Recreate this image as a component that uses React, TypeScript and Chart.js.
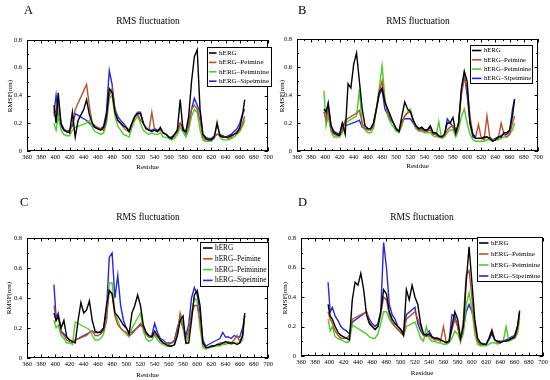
import React, { useEffect, useRef } from 'react';
import { Chart, registerables } from 'chart.js';
Chart.register(...registerables);

// ---------- data ----------
const residues = [
  398, 401, 404, 408, 412, 416, 420, 424, 428, 432,
  436, 440, 444, 448, 452, 456, 460, 464, 468, 472,
  476, 480, 484, 488, 492, 496, 500, 504, 508, 512,
  516, 520, 524, 528, 532, 536, 540, 544, 548, 552,
  556, 560, 564, 568, 572, 576, 580, 584, 588, 592,
  596, 600, 604, 608, 612, 616, 620, 624, 628, 632,
  636, 640, 644, 648, 652, 656, 660, 664, 667,
];

const seriesNames = ['hERG', 'hERG–Peimine', 'hERG–Peiminine', 'hERG–Sipeimine'];
const xTickValues = [360, 380, 400, 420, 440, 460, 480, 500, 520, 540, 560, 580, 600, 620, 640, 660, 680, 700];
const yTickValues = [0, 0.2, 0.4, 0.6, 0.8];
const chartTitle = 'RMS fluctuation';
const xAxisTitle = 'Residue';
const yAxisTitle = 'RMSF(nm)';

const aHerg = [
  0.33, 0.2, 0.42, 0.2, 0.15, 0.14, 0.13, 0.28, 0.1, 0.22,
  0.26, 0.3, 0.37, 0.26, 0.2, 0.17, 0.16, 0.15, 0.17, 0.25,
  0.45, 0.42, 0.28, 0.22, 0.2, 0.18, 0.17, 0.14, 0.2, 0.25,
  0.27, 0.27, 0.2, 0.16, 0.15, 0.14, 0.15, 0.14, 0.17, 0.13,
  0.12, 0.1, 0.09, 0.12, 0.15, 0.37, 0.15, 0.14, 0.25, 0.5,
  0.68, 0.73, 0.3, 0.12, 0.09, 0.08, 0.08, 0.1, 0.2, 0.11,
  0.1, 0.1, 0.1, 0.11, 0.12, 0.13, 0.17, 0.26, 0.37,
];
const aPeimine = [
  0.25, 0.3, 0.35, 0.2, 0.16, 0.14, 0.14, 0.2, 0.3, null,
  null, null, 0.48, 0.32, 0.2, 0.18, 0.17, 0.16, 0.15, 0.22,
  0.4, 0.45, 0.3, 0.22, 0.2, 0.17, 0.15, 0.14, 0.2, 0.24,
  0.27, 0.22, 0.2, 0.17, 0.15, 0.28, 0.15, 0.14, 0.15, 0.13,
  0.12, 0.1, 0.09, 0.11, 0.14, 0.2, 0.15, 0.13, 0.18, 0.3,
  0.33, 0.3, 0.22, 0.1, 0.08, 0.08, 0.08, 0.1, 0.12, 0.11,
  0.1, 0.1, 0.09, 0.1, 0.12, 0.14, 0.15, 0.2, 0.25,
];
const aPeiminine = [
  0.2, 0.15, 0.25, 0.15, 0.12, 0.11, 0.11, 0.15, 0.17, null,
  null, null, 0.2, 0.22, 0.17, 0.14, 0.13, 0.12, 0.13, 0.2,
  0.38, 0.4, 0.25, 0.18, 0.15, 0.12, 0.11, 0.1, 0.17, 0.22,
  0.25, 0.2, 0.15, 0.13, 0.12, 0.13, 0.12, 0.12, 0.13, 0.1,
  0.1, 0.09, 0.08, 0.09, 0.12, 0.17, 0.14, 0.1, 0.15, 0.25,
  0.3, 0.28, 0.15, 0.08, 0.07, 0.07, 0.07, 0.09, 0.21, 0.1,
  0.08, 0.08, 0.08, 0.09, 0.1, 0.12, 0.14, 0.18, 0.22,
];
const aSipeimine = [
  0.27, 0.4, 0.25, 0.18, 0.15, 0.14, 0.15, 0.18, 0.27, null,
  null, null, 0.22, 0.2, 0.18, 0.17, 0.16, 0.16, 0.18, 0.28,
  0.58, 0.48, 0.3, 0.25, 0.22, 0.2, 0.17, 0.15, 0.2, 0.25,
  0.28, 0.28, 0.2, 0.16, 0.15, 0.15, 0.16, 0.15, 0.16, 0.13,
  0.12, 0.1, 0.1, 0.12, 0.15, 0.2, 0.17, 0.12, 0.2, 0.3,
  0.38, 0.33, 0.28, 0.12, 0.1, 0.09, 0.09, 0.11, 0.12, 0.12,
  0.11, 0.1, 0.11, 0.12, 0.14, 0.16, 0.2, 0.27, 0.3,
];

const bHerg = [
  0.3, 0.28, 0.34, 0.18, 0.13, 0.12, 0.11, 0.2, 0.12, 0.48,
  0.45, 0.62, 0.7, 0.5, 0.3, 0.18, 0.16, 0.16, 0.2, 0.3,
  0.42, 0.45, 0.35, 0.3, 0.25, 0.2, 0.16, 0.14, 0.25, 0.35,
  0.3, 0.28, 0.22, 0.18, 0.16, 0.17, 0.15, 0.15, 0.18, 0.13,
  0.13, 0.11, 0.1, 0.12, 0.2, 0.2, 0.24, 0.13, 0.2, 0.45,
  0.57, 0.5, 0.2, 0.12, 0.09, 0.09, 0.09, 0.1, 0.1, 0.09,
  0.07, 0.08, 0.1, 0.1, 0.13, 0.13, 0.15, 0.25, 0.37,
];
const bPeimine = [
  0.28, 0.22, 0.3, 0.15, 0.12, 0.11, 0.11, 0.15, 0.22, null,
  null, null, 0.27, 0.29, 0.2, 0.16, 0.15, 0.15, 0.18, 0.3,
  0.42, 0.5, 0.35, 0.28, 0.23, 0.2, 0.16, 0.14, 0.2, 0.25,
  0.27, 0.28, 0.22, 0.17, 0.15, 0.15, 0.14, 0.14, 0.15, 0.12,
  0.12, 0.1, 0.1, 0.11, 0.15, 0.17, 0.18, 0.12, 0.2, 0.4,
  0.52, 0.45, 0.25, 0.12, 0.1, 0.19, 0.09, 0.08, 0.25, 0.1,
  0.08, 0.08, 0.09, 0.2, 0.12, 0.1, 0.12, 0.2, 0.25,
];
const bPeiminine = [
  0.43, 0.18, 0.25, 0.14, 0.1, 0.1, 0.1, 0.13, 0.2, null,
  null, null, 0.25, 0.44, 0.18, 0.15, 0.13, 0.13, 0.16, 0.3,
  0.45, 0.61, 0.38, 0.25, 0.2, 0.17, 0.14, 0.13, 0.18, 0.25,
  0.28, 0.3, 0.22, 0.16, 0.14, 0.14, 0.13, 0.13, 0.13, 0.11,
  0.1, 0.21, 0.09, 0.1, 0.13, 0.15, 0.15, 0.1, 0.15, 0.25,
  0.3, 0.2, 0.12, 0.08, 0.07, 0.07, 0.07, 0.07, 0.08, 0.08,
  0.07, 0.08, 0.08, 0.09, 0.1, 0.1, 0.12, 0.15, 0.2,
];
const bSipeimine = [
  0.28, 0.25, 0.34, 0.18, 0.14, 0.13, 0.12, 0.2, 0.18, null,
  null, null, 0.21, 0.22, 0.17, 0.16, 0.16, 0.16, 0.2, 0.3,
  0.4, 0.44, 0.3, 0.26, 0.22, 0.2, 0.15, 0.14, 0.22, 0.23,
  0.23, 0.23, 0.2, 0.16, 0.15, 0.16, 0.15, 0.15, 0.17, 0.13,
  0.12, 0.1, 0.1, 0.11, 0.23, 0.2, 0.17, 0.12, 0.2, 0.43,
  0.55, 0.4, 0.2, 0.1, 0.09, 0.09, 0.09, 0.09, 0.1, 0.09,
  0.08, 0.09, 0.1, 0.11, 0.12, 0.12, 0.14, 0.3, 0.37,
];

const cHerg = [
  0.3, 0.25, 0.28, 0.2, 0.25, 0.14, 0.12, 0.11, 0.1, 0.25,
  0.37, 0.3, 0.32, 0.38, 0.25, 0.18, 0.17, 0.17, 0.2, 0.35,
  0.45, 0.43, 0.3, 0.28, 0.25, 0.22, 0.2, 0.16, 0.3, 0.35,
  0.42, 0.35, 0.22, 0.17, 0.15, 0.14, 0.18, 0.15, 0.12, 0.1,
  0.09, 0.08, 0.08, 0.09, 0.15, 0.25, 0.28, 0.1, 0.1, 0.25,
  0.42, 0.45, 0.35, 0.1, 0.07, 0.07, 0.08, 0.08, 0.09, 0.09,
  0.1, 0.11, 0.1, 0.1, 0.1, 0.09, 0.1, 0.15, 0.3,
];
const cPeimine = [
  0.35, 0.25, 0.28, 0.17, 0.15, 0.12, 0.11, 0.1, 0.12, null,
  null, null, 0.15, 0.17, 0.18, 0.15, 0.15, 0.16, 0.18, 0.25,
  0.45, 0.42, 0.28, 0.22, 0.2, 0.18, 0.17, 0.15, 0.16, null,
  null, 0.23, 0.2, 0.16, 0.14, 0.14, 0.16, 0.14, 0.12, 0.1,
  0.1, 0.09, 0.1, 0.11, 0.18, 0.3, 0.22, 0.13, 0.18, 0.3,
  0.35, 0.35, 0.25, 0.1, 0.07, 0.07, 0.08, 0.08, 0.09, 0.1,
  0.1, 0.1, 0.11, 0.1, 0.12, 0.15, 0.11, 0.15, 0.28,
];
const cPeiminine = [
  0.25, 0.2, 0.22, 0.15, 0.13, 0.1, 0.1, 0.09, 0.24, null,
  null, null, 0.2, 0.19, 0.15, 0.12, 0.12, 0.13, 0.16, 0.25,
  0.5, 0.5, 0.3, 0.25, 0.2, 0.18, 0.16, 0.14, 0.2, null,
  null, 0.3, 0.18, 0.13, 0.11, 0.12, 0.15, 0.12, 0.1, 0.09,
  0.08, 0.08, 0.08, 0.09, 0.15, 0.28, 0.2, 0.1, 0.15, 0.3,
  0.4, 0.38, 0.2, 0.07, 0.06, 0.07, 0.07, 0.08, 0.08, 0.08,
  0.09, 0.09, 0.1, 0.09, 0.1, 0.1, 0.1, 0.12, 0.3,
];
const cSipeimine = [
  0.49, 0.27, 0.3, 0.18, 0.16, 0.14, 0.12, 0.11, 0.12, null,
  null, null, 0.16, 0.17, 0.18, 0.17, 0.17, 0.18, 0.2, 0.3,
  0.67, 0.7, 0.4, 0.55, 0.35, 0.25, 0.2, 0.17, 0.17, null,
  null, 0.22, 0.2, 0.16, 0.14, 0.15, 0.23, 0.17, 0.13, 0.12,
  0.1, 0.1, 0.1, 0.12, 0.2, 0.26, 0.2, 0.15, 0.22, 0.4,
  0.47, 0.42, 0.3, 0.12, 0.08, 0.09, 0.1, 0.11, 0.12, 0.13,
  0.17, 0.14, 0.14, 0.13, 0.15, 0.14, 0.14, 0.2, 0.28,
];

const dHerg = [
  0.35, 0.27, 0.25, 0.2, 0.16, 0.14, 0.13, 0.12, 0.11, 0.38,
  0.5, 0.48, 0.56, 0.45, 0.28, 0.22, 0.2, 0.18, 0.2, 0.3,
  0.45, 0.42, 0.3, 0.25, 0.22, 0.2, 0.18, 0.14, 0.45, 0.38,
  0.48, 0.4, 0.35, 0.22, 0.15, 0.14, 0.15, 0.13, 0.12, 0.12,
  0.11, 0.1, 0.09, 0.1, 0.2, 0.3, 0.25, 0.12, 0.2, 0.5,
  0.74, 0.5, 0.25, 0.12, 0.09, 0.08, 0.08, 0.12, 0.17, 0.11,
  0.1, 0.09, 0.1, 0.1, 0.11, 0.12, 0.13, 0.2, 0.3,
];
const dPeimine = [
  0.3, 0.25, 0.22, 0.17, 0.14, 0.12, 0.12, 0.12, 0.14, 0.25,
  null, null, null, null, 0.3, 0.23, 0.2, 0.18, 0.2, 0.28,
  0.4, 0.38, 0.28, 0.23, 0.2, 0.18, 0.16, 0.14, 0.25, null,
  null, 0.3, 0.25, 0.2, 0.14, 0.13, 0.14, 0.12, 0.11, 0.11,
  0.1, 0.2, 0.09, 0.1, 0.18, 0.25, 0.2, 0.1, 0.25, 0.55,
  0.58, 0.4, 0.2, 0.1, 0.08, 0.08, 0.08, 0.12, 0.18, 0.11,
  0.09, 0.09, 0.1, 0.1, 0.11, 0.12, 0.12, 0.18, 0.28,
];
const dPeiminine = [
  0.25, 0.17, 0.2, 0.13, 0.12, 0.11, 0.1, 0.09, 0.1, 0.21,
  null, null, null, null, 0.15, 0.13, 0.12, 0.12, 0.15, 0.22,
  0.3, 0.3, 0.25, 0.22, 0.2, 0.18, 0.16, 0.14, 0.2, null,
  null, 0.23, 0.18, 0.12, 0.1, 0.2, 0.12, 0.1, 0.1, 0.09,
  0.09, 0.08, 0.08, 0.09, 0.12, 0.17, 0.15, 0.1, 0.15, 0.35,
  0.43, 0.32, 0.15, 0.08, 0.07, 0.07, 0.07, 0.08, 0.09, 0.09,
  0.08, 0.09, 0.1, 0.2, 0.1, 0.11, 0.12, 0.15, 0.25,
];
const dSipeimine = [
  0.5, 0.3, 0.33, 0.27, 0.24, 0.2, 0.18, 0.17, 0.15, 0.23,
  null, null, null, null, 0.3, 0.25, 0.22, 0.2, 0.22, 0.3,
  0.77, 0.6, 0.35, 0.28, 0.25, 0.2, 0.18, 0.16, 0.28, null,
  null, 0.33, 0.22, 0.17, 0.14, 0.15, 0.17, 0.13, 0.12, 0.12,
  0.11, 0.1, 0.09, 0.1, 0.28, 0.27, 0.2, 0.12, 0.18, 0.3,
  0.35, 0.3, 0.22, 0.1, 0.08, 0.08, 0.08, 0.11, 0.15, 0.11,
  0.1, 0.1, 0.1, 0.11, 0.12, 0.13, 0.14, 0.2, 0.31,
];

// ---------- styles / layout ----------
const seriesColors = ['#000000', '#b5532c', '#4ccc28', '#2626dc'];
const SERIF = "'Liberation Serif', 'DejaVu Serif', 'Times New Roman', serif";

type Layout = {
  letter: string; left: number; top: number;
  area: { l: number; r: number; t: number; b: number };
  letterPos: [number, number];
  titlePos: [number, number];
  xTitleY: number;
  yTitlePos: [number, number];
  legend: { x: number; y: number; w: number; h: number; row0: number; rowH: number; lineX: number; textX: number; font: number };
};

const panels: { layout: Layout; values: (number | null)[][] }[] = [
  {
    values: [aHerg, aPeimine, aPeiminine, aSipeimine],
    layout: {
      letter: 'A', left: 0, top: 0,
      area: { l: 27, r: 273, t: 40, b: 151 },
      letterPos: [24, 14], titlePos: [148, 24], xTitleY: 169, yTitlePos: [10, 96],
      legend: { x: 207, y: 47, w: 65, h: 40, row0: 53, rowH: 9.4, lineX: 209, textX: 219, font: 7.1 },
    },
  },
  {
    values: [bHerg, bPeimine, bPeiminine, bSipeimine],
    layout: {
      letter: 'B', left: 275, top: 0,
      area: { l: 22, r: 263, t: 39, b: 151 },
      letterPos: [23, 14], titlePos: [143, 24], xTitleY: 168, yTitlePos: [7, 96],
      legend: { x: 195, y: 45, w: 63, h: 39, row0: 50.5, rowH: 9.3, lineX: 197, textX: 209, font: 6.7 },
    },
  },
  {
    values: [cHerg, cPeimine, cPeiminine, cSipeimine],
    layout: {
      letter: 'C', left: 0, top: 190,
      area: { l: 27, r: 273, t: 48, b: 168 },
      letterPos: [20, 16], titlePos: [148, 30], xTitleY: 187, yTitlePos: [9, 108],
      legend: { x: 200, y: 52, w: 69, h: 45, row0: 58, rowH: 10.8, lineX: 203, textX: 215, font: 7.3 },
    },
  },
  {
    values: [dHerg, dPeimine, dPeiminine, dSipeimine],
    layout: {
      letter: 'D', left: 275, top: 190,
      area: { l: 26, r: 271, t: 48, b: 166 },
      letterPos: [23, 16], titlePos: [147, 30], xTitleY: 185, yTitlePos: [10, 108],
      legend: { x: 202, y: 47, w: 66, h: 45, row0: 53, rowH: 11, lineX: 204, textX: 216, font: 7 },
    },
  },
];

const PW = 275;
const PH = 190;

const decorPlugin = {
  id: 'decor',
  afterDraw(chart: any, _args: any, opts: any) {
    const L: Layout = opts.layout;
    if (!L) return;
    const { ctx, chartArea: a } = chart;
    const xs = chart.scales.x;
    const ys = chart.scales.y;
    ctx.save();
    ctx.strokeStyle = '#000';
    ctx.lineWidth = 1;
    ctx.strokeRect(Math.round(a.left) + 0.5, Math.round(a.top) + 0.5, Math.round(a.right - a.left) - 1, Math.round(a.bottom - a.top) - 1);
    // inward ticks on all sides
    ctx.beginPath();
    for (let v = 360; v <= 700; v += 10) {
      const major = v % 20 === 0;
      const len = major ? 3.5 : 2;
      const px = Math.round(xs.getPixelForValue(v)) + 0.5;
      ctx.moveTo(px, a.bottom); ctx.lineTo(px, a.bottom - len);
      ctx.moveTo(px, a.top); ctx.lineTo(px, a.top + len);
    }
    for (let k = 0; k <= 8; k++) {
      const major = k % 2 === 0;
      const len = major ? 3.5 : 2;
      const py = Math.round(ys.getPixelForValue(k / 10)) + 0.5;
      ctx.moveTo(a.left, py); ctx.lineTo(a.left + len, py);
      ctx.moveTo(a.right, py); ctx.lineTo(a.right - len, py);
    }
    ctx.stroke();

    ctx.fillStyle = '#000';
    ctx.font = `12.5px ${SERIF}`;
    ctx.textAlign = 'left';
    ctx.textBaseline = 'alphabetic';
    ctx.fillText(L.letter, L.letterPos[0], L.letterPos[1]);
    ctx.font = `9.5px ${SERIF}`;
    ctx.textAlign = 'center';
    ctx.fillText(chartTitle, L.titlePos[0], L.titlePos[1]);
    ctx.font = `7px ${SERIF}`;
    ctx.fillText(xAxisTitle, (a.left + a.right) / 2, L.xTitleY);
    ctx.save();
    ctx.translate(L.yTitlePos[0], L.yTitlePos[1]);
    ctx.rotate(-Math.PI / 2);
    ctx.textBaseline = 'middle';
    ctx.fillText(yAxisTitle, 0, 0);
    ctx.restore();

    // legend box inside the plot
    const g = L.legend;
    ctx.fillStyle = '#fff';
    ctx.fillRect(g.x, g.y, g.w, g.h);
    ctx.strokeStyle = '#000';
    ctx.lineWidth = 1;
    ctx.strokeRect(g.x + 0.5, g.y + 0.5, g.w - 1, g.h - 1);
    ctx.font = `${g.font}px ${SERIF}`;
    ctx.textAlign = 'left';
    ctx.textBaseline = 'middle';
    chart.data.datasets.forEach((ds: any, i: number) => {
      const y = g.row0 + i * g.rowH;
      ctx.strokeStyle = ds.borderColor;
      ctx.lineWidth = 1.6;
      ctx.beginPath();
      ctx.moveTo(g.lineX, y);
      ctx.lineTo(g.textX - 2.5, y);
      ctx.stroke();
      ctx.fillStyle = '#000';
      ctx.fillText(ds.label, g.textX, y);
    });
    ctx.restore();
  },
};

function Panel({ layout, values }: { layout: Layout; values: (number | null)[][] }) {
  const ref = useRef<HTMLCanvasElement>(null);
  useEffect(() => {
    if (!ref.current) return;
    const ar = layout.area;
    const chart = new Chart(ref.current, {
      type: 'line',
      data: {
        datasets: values.map((vals, i) => ({
          label: seriesNames[i],
          data: residues.map((r, j) => ({ x: r, y: vals[j] })),
          borderColor: seriesColors[i],
          backgroundColor: seriesColors[i],
          borderWidth: 1.4,
          pointRadius: 0,
          tension: 0,
          spanGaps: true,
          fill: false,
        })),
      },
      options: {
        responsive: false,
        animation: false,
        events: [],
        layout: { padding: { top: ar.t, right: PW - ar.r, left: 0, bottom: 0 } },
        scales: {
          x: {
            type: 'linear',
            min: xTickValues[0],
            max: xTickValues[xTickValues.length - 1],
            afterBuildTicks: (s: any) => { s.ticks = xTickValues.map((v) => ({ value: v })); },
            afterFit: (s: any) => { s.height = PH - ar.b; },
            grid: { display: false, drawTicks: false, tickLength: 0 },
            border: { display: false },
            ticks: { color: '#000', font: { family: SERIF, size: 6.5 }, padding: 2, maxRotation: 0, autoSkip: false },
          },
          y: {
            type: 'linear',
            min: yTickValues[0],
            max: yTickValues[yTickValues.length - 1],
            afterBuildTicks: (s: any) => { s.ticks = yTickValues.map((v) => ({ value: v })); },
            afterFit: (s: any) => { s.width = ar.l; },
            grid: { display: false, drawTicks: false, tickLength: 0 },
            border: { display: false },
            ticks: { color: '#000', font: { family: SERIF, size: 6.5 }, padding: 5, autoSkip: false },
          },
        },
        plugins: {
          legend: { display: false },
          title: { display: false },
          tooltip: { enabled: false },
          decor: { layout },
        } as any,
      },
      plugins: [decorPlugin],
    });
    return () => chart.destroy();
  }, [layout, values]);
  return (
    <canvas
      ref={ref}
      width={PW}
      height={PH}
      style={{ position: 'absolute', left: layout.left, top: layout.top, width: PW, height: PH }}
    />
  );
}

export default function App() {
  return (
    <div style={{ position: 'fixed', left: 0, top: 0, width: 550, height: 380, background: '#fff', overflow: 'hidden' }}>
      {panels.map((p) => (
        <Panel key={p.layout.letter} layout={p.layout} values={p.values} />
      ))}
    </div>
  );
}
